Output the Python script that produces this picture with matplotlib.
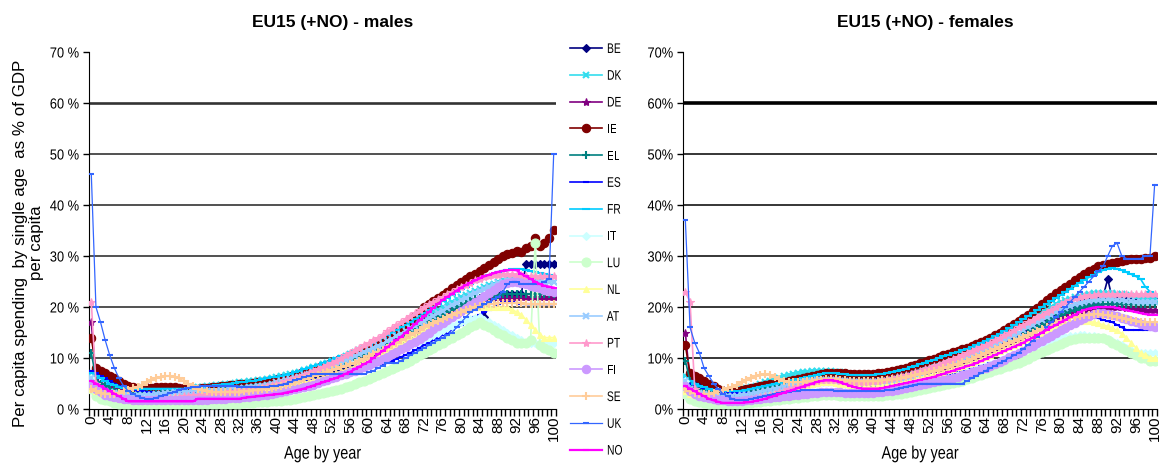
import matplotlib
matplotlib.use("Agg")
import matplotlib.pyplot as plt
import numpy as np
from matplotlib.patheffects import AbstractPathEffect
from matplotlib.transforms import Affine2D

plt.rcParams["font.family"] = ["Liberation Sans", "DejaVu Sans"]

AGES = list(range(101))
COUNTRIES = ["BE", "DK", "DE", "IE", "EL", "ES", "FR", "IT", "LU", "NL", "AT", "PT", "FI", "SE", "UK", "NO"]

# per capita spending, % of GDP per capita, males, ages 0..100
BE_M = [6, 7.5, 7, 6.5, 6, 5.5, 5, 4.5, 4, 3.8,
        3.6, 3.5, 3.5, 3.5, 3.5, 3.5, 3.5, 3.5, 3.5, 3.5,
        3.5, 3.5, 3.5, 3.5, 3.5, 3.6, 3.6, 3.7, 3.7, 3.8,
        3.8, 3.9, 4, 4, 4.1, 4.2, 4.3, 4.4, 4.5, 4.6,
        4.7, 4.8, 5, 5.2, 5.4, 5.6, 5.8, 6, 6.2, 6.4,
        6.6, 6.8, 7, 7.3, 7.6, 7.9, 8.2, 8.6, 9, 9.4,
        9.8, 10.2, 10.6, 11, 11.5, 12, 12.5, 13, 13.5, 14,
        14.5, 15, 15.5, 16, 16.5, 17, 17.5, 18, 18.5, 19,
        19.5, 20, 20.5, 21, 21.5, 18, 21.5, 22, 22.5, 22.5,
        22.5, 22.5, 22.5, 22.5, 28.5, 28.5, 28.5, 28.5, 28.5, 28.5, 28.5]
DK_M = [7, 5, 4.5, 4.2, 4, 3.8, 3.6, 3.5, 3.5, 3.5,
        3.5, 3.5, 3.5, 3.5, 3.6, 3.7, 3.8, 3.9, 4, 4,
        4, 4.1, 4.2, 4.3, 4.4, 4.5, 4.6, 4.7, 4.8, 4.9,
        5, 5.1, 5.2, 5.3, 5.4, 5.5, 5.6, 5.7, 5.8, 6,
        6.2, 6.4, 6.6, 6.8, 7, 7.3, 7.6, 7.9, 8.2, 8.5,
        8.8, 9.1, 9.4, 9.7, 10, 10.4, 10.8, 11.2, 11.6, 12,
        12.4, 12.8, 13.2, 13.6, 14, 14.5, 15, 15.5, 16, 16.5,
        17, 17.5, 18, 18.5, 19, 19.5, 20, 20.5, 21, 21.5,
        22, 22.4, 22.8, 23.2, 23.6, 24, 24.3, 24.6, 24.9, 25.2,
        25.4, 25.5, 25.5, 25.5, 25.4, 25.3, 25.2, 25.1, 25, 25, 25]
DE_M = [17, 6, 5, 4.6, 4.4, 4.3, 4.2, 4.2, 4.2, 4.3,
        4.4, 4.5, 4.5, 4.4, 4.3, 4.2, 4.1, 4, 4, 4,
        3.9, 3.9, 3.9, 3.9, 4, 4, 4.1, 4.2, 4.3, 4.4,
        4.5, 4.6, 4.7, 4.8, 4.9, 5, 5.1, 5.2, 5.4, 5.6,
        5.8, 6, 6.2, 6.4, 6.7, 7, 7.3, 7.6, 7.9, 8.2,
        8.5, 8.8, 9.2, 9.6, 10, 10.4, 10.8, 11.2, 11.6, 12,
        12.4, 12.8, 13.2, 13.6, 14, 14.4, 14.8, 15.2, 15.6, 16,
        16.4, 16.8, 17.2, 17.6, 18, 18.4, 18.8, 19.2, 19.6, 20,
        20.3, 20.6, 20.9, 21.2, 21.5, 21.7, 21.9, 22, 22, 22,
        22, 22, 22, 22, 22, 22, 22, 22, 22, 22, 22]
IE_M = [14, 8, 7.5, 7, 6.5, 6, 5.5, 5, 4.5, 4.3,
        4.2, 4.2, 4.2, 4.2, 4.3, 4.3, 4.4, 4.4, 4.3, 4.2,
        4.1, 4, 4, 4, 4.1, 4.2, 4.3, 4.4, 4.5, 4.6,
        4.7, 4.8, 4.9, 5, 5, 5.1, 5.2, 5.3, 5.4, 5.5,
        5.6, 5.8, 6, 6.2, 6.5, 6.8, 7.1, 7.4, 7.7, 8,
        8.3, 8.6, 8.9, 9.2, 9.6, 10, 10.4, 10.8, 11.2, 11.6,
        12, 12.5, 13, 13.5, 14, 14.7, 15.4, 16.1, 16.8, 17.5,
        18.3, 19.1, 20, 20.6, 21.2, 21.8, 22.4, 23, 23.7, 24.4,
        25, 25.5, 26, 26.5, 27, 27.6, 28.2, 28.8, 29.4, 30,
        30.3, 30.6, 31, 30.8, 31.5, 32, 33.5, 32, 32.5, 33.5, 35]
EL_M = [11, 6, 5, 4.5, 4, 3.7, 3.5, 3.3, 3.2, 3.1,
        3, 3, 3, 3, 3, 3, 3, 3, 3, 3,
        3, 3, 3, 3, 3.1, 3.2, 3.3, 3.4, 3.5, 3.6,
        3.7, 3.8, 3.9, 4, 4.1, 4.2, 4.3, 4.4, 4.5, 4.7,
        4.9, 5.1, 5.3, 5.5, 5.7, 6, 6.3, 6.6, 6.9, 7.2,
        7.5, 7.8, 8.1, 8.4, 8.8, 9.2, 9.6, 10, 10.4, 10.8,
        11.2, 11.6, 12, 12.4, 12.8, 13.2, 13.6, 14, 14.5, 15,
        15.5, 16, 16.5, 17, 17.5, 18, 18.5, 19, 19.5, 20,
        20.4, 20.8, 21.2, 21.5, 21.8, 22, 22.2, 22.3, 22.4, 22.5,
        22.5, 22.5, 22.5, 22.5, 22.5, 22.5, 22.5, 22.5, 22.5, 22.5, 22.5]
ES_M = [7.5, 7, 6.5, 6, 5.5, 5, 4.6, 4.3, 4, 3.8,
        3.6, 3.5, 3.4, 3.3, 3.2, 3.2, 3.2, 3.2, 3.2, 3.2,
        3.2, 3.2, 3.2, 3.2, 3.2, 3.2, 3.2, 3.3, 3.3, 3.4,
        3.4, 3.5, 3.5, 3.6, 3.7, 3.8, 3.9, 4, 4.1, 4.2,
        4.3, 4.4, 4.5, 4.7, 4.9, 5.1, 5.3, 5.5, 5.7, 5.9,
        6.1, 6.3, 6.5, 6.7, 6.9, 7.1, 7.3, 7.5, 7.7, 7.9,
        8.1, 8.3, 8.6, 8.9, 9.2, 9.5, 9.8, 10.2, 10.6, 11,
        11.5, 12, 12.5, 13, 13.5, 14, 14.5, 15, 15.5, 16,
        16.5, 17, 17.5, 18, 18.5, 19, 19.5, 20, 20.5, 21,
        21, 21, 20.8, 20.6, 20.5, 20.5, 20.5, 20.5, 20.5, 20.5, 20.5]
FR_M = [7, 6.5, 6, 5.5, 5, 4.7, 4.4, 4.2, 4, 4,
        4, 4, 4, 4, 4, 4, 4, 4, 4, 4,
        4, 4.1, 4.2, 4.3, 4.4, 4.5, 4.6, 4.7, 4.8, 4.9,
        5, 5.1, 5.2, 5.3, 5.4, 5.5, 5.6, 5.8, 6, 6.2,
        6.3, 6.5, 6.7, 6.9, 7.2, 7.5, 7.8, 8.1, 8.4, 8.7,
        9, 9.3, 9.6, 10, 10.3, 10.6, 11, 11.4, 11.8, 12.2,
        12.6, 13, 13.5, 14, 14.5, 15, 15.5, 16, 16.5, 17,
        17.6, 18.2, 18.8, 19.4, 20, 20.6, 21.2, 21.8, 22.4, 23,
        23.5, 24, 24.5, 25, 25.4, 25.8, 26.2, 26.5, 26.8, 27,
        27.2, 27.4, 27.5, 27.4, 27.2, 27, 26.8, 26.6, 26.4, 26.2, 26]
IT_M = [6, 4, 3.2, 2.8, 2.5, 2.3, 2.2, 2.1, 2, 2,
        2, 2, 2, 2, 2, 2, 2, 2, 2, 2,
        2, 2, 2, 2, 2, 2, 2.1, 2.1, 2.2, 2.2,
        2.3, 2.3, 2.4, 2.5, 2.6, 2.7, 2.8, 2.9, 3, 3.1,
        3.2, 3.3, 3.5, 3.7, 3.9, 4.1, 4.3, 4.5, 4.8, 5.1,
        5.4, 5.7, 6, 6.3, 6.6, 7, 7.4, 7.8, 8.2, 8.6,
        9, 9.4, 9.8, 10.2, 10.6, 11, 11.4, 11.8, 12.2, 12.6,
        13, 13.4, 13.8, 14.2, 14.6, 15, 15.4, 15.8, 16.2, 16.6,
        17, 17.3, 17.6, 17.8, 18, 17.5, 17, 16.5, 16, 15.5,
        15, 14.5, 14, 13.5, 13, 13, 13, 13, 13, 13, 13]
LU_M = [4, 2.5, 2, 1.8, 1.5, 1.2, 1, 1, 1, 1,
        1, 1, 1, 1, 1, 1, 1, 1, 1, 1,
        1, 1, 1, 1, 1, 1, 1, 1, 1, 1,
        1, 1, 1, 1.1, 1.2, 1.2, 1.3, 1.3, 1.4, 1.5,
        1.5, 1.6, 1.7, 1.8, 2, 2.2, 2.4, 2.6, 2.8, 3,
        3.2, 3.4, 3.6, 3.8, 4, 4.3, 4.6, 4.9, 5.2, 5.5,
        5.8, 6.2, 6.6, 7, 7.4, 7.8, 8.2, 8.6, 9, 9.5,
        10, 10.5, 11, 11.5, 12, 12.5, 13, 13.5, 14, 14.5,
        15, 15.5, 16, 16.5, 17, 16.5, 16, 15.5, 15, 14.5,
        14, 13.5, 13, 13, 13, 13.5, 32.5, 12.5, 12, 11.5, 11]
NL_M = [4, 3.5, 3.2, 3, 2.8, 2.6, 2.5, 2.4, 2.4, 2.4,
        2.4, 2.4, 2.4, 2.5, 2.6, 2.7, 2.8, 2.9, 3, 3,
        3, 3, 3, 3, 3, 3, 3, 3, 3.1, 3.1,
        3.2, 3.2, 3.3, 3.4, 3.5, 3.6, 3.7, 3.8, 3.9, 4,
        4.1, 4.2, 4.4, 4.6, 4.8, 5, 5.2, 5.4, 5.6, 5.9,
        6.2, 6.5, 6.8, 7.1, 7.4, 7.7, 8, 8.4, 8.8, 9.2,
        9.6, 10, 10.5, 11, 11.5, 12, 12.5, 13, 13.5, 14,
        14.5, 15, 15.5, 16, 16.5, 17, 17.5, 18, 18.4, 18.8,
        19.2, 19.5, 19.8, 20, 20, 20, 20, 20, 20, 20,
        20, 19.5, 19, 18.5, 17.5, 16.5, 15.5, 14.5, 14, 14, 14]
AT_M = [6, 4.5, 4, 3.6, 3.3, 3.1, 3, 2.9, 2.8, 2.8,
        2.8, 2.8, 2.8, 2.8, 2.9, 3, 3.1, 3.2, 3.3, 3.4,
        3.4, 3.4, 3.4, 3.4, 3.5, 3.5, 3.6, 3.6, 3.7, 3.8,
        3.9, 4, 4.1, 4.2, 4.3, 4.4, 4.5, 4.6, 4.8, 5,
        5.2, 5.4, 5.6, 5.8, 6, 6.3, 6.6, 6.9, 7.2, 7.5,
        7.8, 8.1, 8.4, 8.8, 9.2, 9.6, 10, 10.4, 10.8, 11.2,
        11.6, 12, 12.4, 12.8, 13.3, 13.8, 14.3, 14.8, 15.3, 15.8,
        16.3, 16.8, 17.3, 17.8, 18.3, 18.8, 19.3, 19.8, 20.3, 20.8,
        21.3, 21.8, 22.3, 22.8, 23.2, 23.6, 24, 24.4, 24.7, 25,
        25.2, 25.3, 25.3, 25.3, 25.2, 25.1, 25, 25, 25, 25, 25]
PT_M = [21, 5, 3.5, 3, 2.5, 2.2, 2, 1.8, 1.7, 1.6,
        1.6, 1.6, 1.7, 1.8, 1.9, 2, 2.1, 2.2, 2.3, 2.4,
        2.5, 2.6, 2.7, 2.8, 2.9, 3, 3.1, 3.2, 3.3, 3.4,
        3.5, 3.6, 3.7, 3.8, 3.9, 4, 4.1, 4.3, 4.5, 4.7,
        4.9, 5.1, 5.4, 5.7, 6, 6.3, 6.7, 7.1, 7.5, 7.9,
        8.3, 8.7, 9.1, 9.5, 10, 10.5, 11, 11.5, 12, 12.5,
        13, 13.5, 14, 14.6, 15.2, 15.8, 16.4, 17, 17.6, 18.2,
        18.8, 19.4, 20, 20.5, 21, 21.5, 22, 22.5, 23, 23.5,
        24, 24.4, 24.8, 25.2, 25.5, 25.8, 26, 26.2, 26.3, 26.4,
        26.4, 26.4, 26.3, 26.2, 26.1, 26, 26, 26, 26, 26, 26]
FI_M = [5, 4, 3.3, 2.8, 2.5, 2.3, 2.1, 2, 1.9, 1.8,
        1.8, 1.8, 1.8, 1.8, 1.8, 1.8, 1.8, 1.8, 1.8, 1.8,
        1.8, 1.8, 1.8, 1.8, 1.8, 1.8, 1.9, 1.9, 2, 2,
        2.1, 2.1, 2.2, 2.3, 2.4, 2.5, 2.6, 2.7, 2.8, 3,
        3.1, 3.3, 3.5, 3.7, 3.9, 4.1, 4.3, 4.5, 4.8, 5.1,
        5.4, 5.7, 6, 6.3, 6.6, 6.9, 7.2, 7.5, 7.8, 8.2,
        8.6, 9, 9.4, 9.8, 10.2, 10.7, 11.2, 11.7, 12.2, 12.7,
        13.2, 13.8, 14.4, 15, 15.6, 16.2, 16.8, 17.4, 18, 18.6,
        19.2, 19.8, 20.4, 21, 21.6, 22.2, 22.8, 23.4, 24, 24.5,
        24.8, 25, 25, 24.8, 24.5, 24.2, 24, 23.7, 23.4, 23.2, 23]
SE_M = [4, 3.5, 3.2, 3, 2.9, 3, 3.2, 3.5, 3.8, 4.1,
        4.4, 4.8, 5.2, 5.6, 6, 6.3, 6.5, 6.5, 6.3, 6,
        5.5, 5, 4.5, 4, 3.7, 3.5, 3.4, 3.3, 3.3, 3.3,
        3.3, 3.3, 3.4, 3.5, 3.6, 3.7, 3.8, 3.9, 4, 4.2,
        4.4, 4.6, 4.8, 5, 5.2, 5.5, 5.8, 6.1, 6.4, 6.7,
        7, 7.3, 7.6, 7.9, 8.2, 8.5, 8.8, 9.1, 9.5, 9.9,
        10.3, 10.7, 11.1, 11.5, 12, 12.5, 13, 13.5, 14, 14.5,
        15, 15.5, 16, 16.4, 16.8, 17.2, 17.6, 18, 18.4, 18.8,
        19.1, 19.4, 19.7, 20, 20.2, 20.4, 20.5, 20.6, 20.7, 20.8,
        20.8, 20.8, 20.8, 20.7, 20.6, 20.5, 20.5, 20.5, 20.5, 20.5, 20.5]
UK_M = [46, 20, 17, 13.5, 10.5, 8, 6, 4.5, 3.5, 3,
        2.5, 2.2, 2, 2, 2.2, 2.5, 2.8, 3.1, 3.4, 3.7,
        4, 4.2, 4.3, 4.4, 4.5, 4.5, 4.5, 4.5, 4.5, 4.5,
        4.5, 4.5, 4.4, 4.4, 4.3, 4.3, 4.3, 4.3, 4.4, 4.5,
        4.6, 4.8, 5, 5.3, 5.6, 5.9, 6.2, 6.5, 6.8, 6.8,
        6.8, 6.8, 6.8, 6.8, 6.8, 6.8, 6.8, 6.8, 6.8, 6.8,
        7.2, 7.5, 8, 8.5, 9, 9, 9, 9.5, 10, 10.5,
        11, 11.5, 12, 12.5, 13, 13.5, 14, 14.5, 15, 16,
        17, 18, 19, 19.5, 20, 20.5, 21, 21.5, 22, 23,
        24.5, 25, 25, 24.5, 24.5, 24.5, 24.5, 24.5, 25, 25.5, 50]
NO_M = [5.5, 5, 4.5, 4, 3.5, 3, 2.5, 2, 1.5, 1.5,
        1.5, 1.5, 1.5, 1.5, 1.5, 1.5, 1.5, 1.5, 1.5, 1.5,
        1.5, 1.5, 1.5, 2, 2, 2, 2, 2, 2, 2,
        2, 2, 2, 2.2, 2.3, 2.4, 2.5, 2.6, 2.7, 2.8,
        2.9, 3, 3.2, 3.4, 3.6, 3.8, 4, 4.3, 4.6, 4.9,
        5.2, 5.5, 5.8, 6.1, 6.5, 6.9, 7.3, 7.8, 8.3, 8.8,
        9.3, 10, 10.7, 11.4, 12.1, 12.8, 13.5, 14.2, 15, 15.8,
        16.6, 17.4, 18.2, 19, 19.8, 20.6, 21.4, 22, 22.6, 23.2,
        23.8, 24.3, 24.8, 25.2, 25.6, 26, 26.3, 26.6, 26.9, 27.1,
        27.2, 27.3, 27.2, 26.5, 26, 25.5, 25, 24.5, 24.2, 24, 23.8]

# females, ages 0..100
BE_F = [5, 6.5, 6, 5.5, 5, 4.5, 4.2, 3.9, 3.7, 3.5,
        3.4, 3.4, 3.5, 3.6, 3.7, 3.9, 4.1, 4.3, 4.5, 4.7,
        4.9, 5.1, 5.3, 5.5, 5.6, 5.7, 5.8, 5.9, 6, 6,
        6, 6, 5.9, 5.8, 5.7, 5.6, 5.5, 5.5, 5.5, 5.5,
        5.5, 5.6, 5.7, 5.8, 6, 6.2, 6.4, 6.6, 6.8, 7,
        7.2, 7.4, 7.6, 7.8, 8, 8.3, 8.6, 8.9, 9.2, 9.5,
        9.8, 10.1, 10.4, 10.8, 11.2, 11.6, 12, 12.5, 13, 13.5,
        14, 14.5, 15, 15.5, 16, 16.5, 17, 17.5, 18, 18.5,
        19, 19.4, 19.8, 20.2, 20.5, 20.8, 21, 21.2, 21.4, 22,
        25.5, 21.5, 21.5, 21.5, 21.5, 21.5, 21.5, 21.5, 21.5, 21.5, 21.5]
DK_F = [6.5, 4.5, 4, 3.7, 3.5, 3.4, 3.4, 3.4, 3.4, 3.5,
        3.6, 3.7, 3.9, 4.1, 4.3, 4.6, 4.9, 5.2, 5.5, 5.8,
        6.1, 6.4, 6.7, 6.9, 7.1, 7.2, 7.3, 7.4, 7.5, 7.5,
        7.5, 7.4, 7.3, 7.2, 7, 6.9, 6.8, 6.7, 6.7, 6.7,
        6.7, 6.8, 6.9, 7, 7.2, 7.4, 7.6, 7.8, 8, 8.3,
        8.6, 8.9, 9.2, 9.5, 9.8, 10.1, 10.4, 10.7, 11, 11.3,
        11.6, 12, 12.4, 12.8, 13.2, 13.6, 14, 14.5, 15, 15.5,
        16, 16.5, 17, 17.5, 18, 18.5, 19, 19.5, 20, 20.5,
        21, 21.3, 21.6, 21.9, 22.2, 22.4, 22.6, 22.7, 22.8, 22.8,
        22.8, 22.7, 22.6, 22.5, 22.3, 22.2, 22, 21.8, 21.6, 21.5, 21.5]
DE_F = [15, 5.5, 4.5, 4, 3.7, 3.5, 3.3, 3.2, 3.1, 3.1,
        3.1, 3.2, 3.3, 3.4, 3.5, 3.7, 3.9, 4.1, 4.3, 4.5,
        4.7, 4.9, 5.1, 5.3, 5.5, 5.6, 5.7, 5.8, 5.9, 6,
        6, 6, 6, 5.9, 5.8, 5.7, 5.6, 5.6, 5.6, 5.6,
        5.6, 5.7, 5.8, 5.9, 6, 6.2, 6.4, 6.6, 6.8, 7,
        7.2, 7.4, 7.6, 7.8, 8, 8.3, 8.6, 8.9, 9.2, 9.5,
        9.8, 10.1, 10.4, 10.8, 11.2, 11.6, 12, 12.4, 12.8, 13.2,
        13.6, 14, 14.5, 15, 15.5, 16, 16.5, 17, 17.4, 17.8,
        18.2, 18.5, 18.8, 19, 19.2, 19.4, 19.6, 19.7, 19.8, 19.9,
        20, 20, 20, 20, 19.9, 19.8, 19.7, 19.6, 19.5, 19.5, 19.5]
IE_F = [12.5, 7, 6.5, 6, 5.5, 5, 4.5, 4, 3.5, 3.5,
        3.5, 3.6, 3.8, 4, 4.2, 4.4, 4.6, 4.8, 5, 5,
        5.1, 5.3, 5.5, 5.7, 5.9, 6.1, 6.3, 6.5, 6.7, 6.9,
        7, 7.1, 7.1, 7, 7, 6.9, 6.8, 6.8, 6.8, 6.8,
        6.9, 7, 7.1, 7.3, 7.5, 7.7, 7.9, 8.1, 8.4, 8.7,
        9, 9.3, 9.6, 9.9, 10.2, 10.5, 10.8, 11.1, 11.4, 11.7,
        12, 12.4, 12.8, 13.2, 13.6, 14, 14.5, 15, 15.5, 16,
        16.6, 17.2, 17.8, 18.5, 19.2, 19.9, 20.6, 21.3, 22, 22.7,
        23.4, 24, 24.6, 25.2, 25.8, 26.4, 27, 27.5, 28, 28.3,
        28.5, 28.7, 28.9, 29, 29.2, 29.4, 29.5, 29.5, 29.6, 29.7, 30]
EL_F = [9.5, 5.5, 4.5, 4, 3.6, 3.3, 3.1, 3, 2.9, 2.9,
        2.9, 3, 3.1, 3.2, 3.3, 3.5, 3.7, 3.9, 4.1, 4.3,
        4.5, 4.7, 4.9, 5.1, 5.3, 5.4, 5.5, 5.6, 5.7, 5.8,
        5.8, 5.8, 5.8, 5.7, 5.6, 5.5, 5.4, 5.4, 5.4, 5.4,
        5.4, 5.5, 5.6, 5.7, 5.8, 6, 6.2, 6.4, 6.6, 6.8,
        7, 7.2, 7.4, 7.6, 7.8, 8.1, 8.4, 8.7, 9, 9.3,
        9.6, 9.9, 10.2, 10.6, 11, 11.4, 11.8, 12.2, 12.6, 13,
        13.5, 14, 14.5, 15, 15.5, 16, 16.5, 17, 17.5, 18,
        18.4, 18.8, 19.2, 19.5, 19.8, 20, 20.2, 20.3, 20.4, 20.5,
        20.5, 20.5, 20.5, 20.5, 20.5, 20.5, 20.5, 20.5, 20.5, 20.5, 20.5]
ES_F = [5, 5, 4.8, 4.5, 4.2, 4, 3.8, 3.6, 3.4, 3.3,
        3.2, 3.1, 3.1, 3.1, 3.2, 3.3, 3.4, 3.5, 3.6, 3.7,
        3.8, 3.9, 4, 4.1, 4.2, 4.3, 4.4, 4.5, 4.6, 4.7,
        4.8, 4.8, 4.8, 4.8, 4.7, 4.6, 4.5, 4.5, 4.5, 4.5,
        4.5, 4.5, 4.6, 4.7, 4.8, 4.9, 5, 5.1, 5.3, 5.5,
        5.7, 5.9, 6.1, 6.3, 6.5, 6.7, 6.9, 7.1, 7.3, 7.5,
        7.7, 7.9, 8.1, 8.4, 8.7, 9, 9.3, 9.6, 10, 10.4,
        10.8, 11.2, 11.6, 12, 12.5, 13, 13.5, 14, 14.5, 15,
        15.5, 16, 16.5, 17, 17.4, 17.8, 18, 18, 17.8, 17.5,
        17.2, 17, 16.5, 16, 15.5, 15.5, 15.5, 15.5, 15.5, 15.5, 15.5]
FR_F = [6, 5.5, 5, 4.6, 4.3, 4, 3.8, 3.6, 3.5, 3.5,
        3.5, 3.5, 3.6, 3.8, 4, 4.2, 4.4, 4.6, 4.8, 5,
        5.1, 5.3, 5.5, 5.7, 5.9, 6.1, 6.3, 6.5, 6.7, 6.9,
        7, 7, 7, 6.9, 6.8, 6.7, 6.6, 6.6, 6.6, 6.6,
        6.7, 6.8, 6.9, 7.1, 7.3, 7.5, 7.7, 7.9, 8.2, 8.5,
        8.8, 9.1, 9.4, 9.7, 10, 10.3, 10.6, 10.9, 11.2, 11.5,
        11.8, 12.2, 12.6, 13, 13.4, 13.8, 14.3, 14.8, 15.3, 15.8,
        16.4, 17, 17.6, 18.2, 18.8, 19.4, 20, 20.6, 21.2, 21.8,
        22.4, 23, 23.6, 24.2, 24.8, 25.3, 25.8, 26.3, 26.8, 27.2,
        27.5, 27.6, 27.5, 27.2, 26.8, 26.4, 26, 25.5, 24, 23, 22]
IT_F = [5.5, 3.5, 2.8, 2.4, 2.1, 1.9, 1.8, 1.7, 1.6, 1.6,
        1.6, 1.6, 1.7, 1.8, 1.9, 2, 2.1, 2.2, 2.3, 2.4,
        2.5, 2.6, 2.7, 2.8, 2.9, 3, 3.1, 3.2, 3.3, 3.4,
        3.4, 3.4, 3.4, 3.4, 3.3, 3.3, 3.3, 3.3, 3.3, 3.3,
        3.3, 3.4, 3.5, 3.6, 3.7, 3.8, 4, 4.2, 4.4, 4.6,
        4.8, 5, 5.2, 5.4, 5.6, 5.8, 6, 6.3, 6.6, 6.9,
        7.2, 7.5, 7.8, 8.1, 8.4, 8.7, 9, 9.4, 9.8, 10.2,
        10.6, 11, 11.4, 11.8, 12.2, 12.5, 12.8, 13.1, 13.4, 13.7,
        14, 14.2, 14.3, 14.4, 14.5, 14.5, 14.4, 14.3, 14.2, 14,
        13.7, 13.4, 13, 12.5, 12, 11.5, 11, 11, 11, 11, 11]
LU_F = [3, 2, 1.5, 1.3, 1.1, 1, 1, 1, 1, 1,
        1, 1, 1, 1.1, 1.2, 1.3, 1.4, 1.5, 1.6, 1.7,
        1.8, 1.9, 2, 2.1, 2.2, 2.3, 2.4, 2.5, 2.6, 2.7,
        2.7, 2.7, 2.7, 2.6, 2.6, 2.5, 2.5, 2.5, 2.5, 2.5,
        2.5, 2.5, 2.6, 2.7, 2.8, 2.9, 3, 3.1, 3.3, 3.5,
        3.7, 3.9, 4.1, 4.3, 4.5, 4.7, 4.9, 5.1, 5.3, 5.5,
        5.8, 6.1, 6.4, 6.7, 7, 7.3, 7.6, 7.9, 8.2, 8.5,
        8.8, 9.1, 9.5, 9.9, 10.3, 10.7, 11.1, 11.5, 11.9, 12.3,
        12.7, 13.1, 13.5, 13.8, 14, 14, 14, 14, 14, 14,
        13.5, 13, 12.5, 12, 11.5, 11, 10.5, 10, 10, 9.5, 9.5]
NL_F = [3.5, 3, 2.7, 2.5, 2.3, 2.2, 2.1, 2, 2, 2,
        2, 2, 2.1, 2.2, 2.4, 2.6, 2.8, 3, 3.2, 3.4,
        3.6, 3.8, 4, 4.2, 4.4, 4.6, 4.8, 5, 5.1, 5.2,
        5.2, 5.2, 5.1, 5, 4.9, 4.8, 4.7, 4.6, 4.6, 4.6,
        4.6, 4.7, 4.8, 4.9, 5, 5.2, 5.4, 5.6, 5.8, 6,
        6.2, 6.4, 6.6, 6.8, 7, 7.3, 7.6, 7.9, 8.2, 8.5,
        8.8, 9.1, 9.4, 9.8, 10.2, 10.6, 11, 11.4, 11.8, 12.2,
        12.6, 13, 13.4, 13.8, 14.2, 14.6, 15, 15.4, 15.8, 16.2,
        16.5, 16.8, 17, 17.2, 17.3, 17.3, 17.2, 17, 16.8, 16.5,
        16.2, 15.8, 15.4, 14.8, 14, 13, 12, 11, 10.5, 10, 10]
AT_F = [5.5, 4, 3.5, 3.2, 3, 2.8, 2.7, 2.6, 2.5, 2.5,
        2.5, 2.6, 2.7, 2.8, 3, 3.2, 3.4, 3.6, 3.8, 4,
        4.2, 4.4, 4.6, 4.8, 5, 5.2, 5.4, 5.5, 5.6, 5.7,
        5.7, 5.7, 5.6, 5.5, 5.4, 5.3, 5.2, 5.2, 5.2, 5.2,
        5.2, 5.3, 5.4, 5.5, 5.7, 5.9, 6.1, 6.3, 6.5, 6.8,
        7.1, 7.4, 7.7, 8, 8.3, 8.6, 8.9, 9.2, 9.5, 9.8,
        10.1, 10.5, 10.9, 11.3, 11.7, 12.1, 12.5, 13, 13.5, 14,
        14.5, 15, 15.5, 16, 16.5, 17, 17.5, 18, 18.5, 19,
        19.4, 19.8, 20.2, 20.5, 20.8, 21, 21.2, 21.3, 21.4, 21.5,
        21.5, 21.5, 21.4, 21.3, 21.2, 21.1, 21, 21, 21, 21, 21]
PT_F = [23, 21, 4, 3, 2.5, 2, 1.8, 1.6, 1.5, 1.5,
        1.5, 1.6, 1.7, 1.8, 2, 2.2, 2.4, 2.6, 2.8, 3,
        3.3, 3.6, 3.9, 4.2, 4.5, 4.8, 5, 5.2, 5.4, 5.6,
        5.7, 5.7, 5.6, 5.5, 5.4, 5.3, 5.3, 5.3, 5.3, 5.3,
        5.4, 5.5, 5.6, 5.8, 6, 6.2, 6.4, 6.6, 6.9, 7.2,
        7.5, 7.8, 8.1, 8.4, 8.7, 9, 9.4, 9.8, 10.2, 10.6,
        11, 11.4, 11.8, 12.2, 12.6, 13, 13.5, 14, 14.5, 15,
        15.5, 16, 16.5, 17, 17.5, 18, 18.5, 19, 19.5, 20,
        20.5, 21, 21.4, 21.8, 22, 22.2, 22.3, 22.4, 22.5, 22.5,
        22.5, 22.5, 22.5, 22.5, 22.5, 22.5, 22.5, 22.5, 22.5, 22.5, 22.5]
FI_F = [4.5, 3.6, 3, 2.6, 2.3, 2.1, 1.9, 1.8, 1.7, 1.6,
        1.6, 1.6, 1.6, 1.7, 1.8, 1.9, 2, 2.1, 2.2, 2.3,
        2.4, 2.5, 2.6, 2.7, 2.8, 2.9, 3, 3.1, 3.2, 3.3,
        3.3, 3.3, 3.3, 3.3, 3.2, 3.2, 3.2, 3.2, 3.2, 3.2,
        3.2, 3.3, 3.4, 3.5, 3.6, 3.7, 3.9, 4.1, 4.3, 4.5,
        4.7, 4.9, 5.1, 5.3, 5.5, 5.7, 5.9, 6.1, 6.3, 6.6,
        6.9, 7.2, 7.5, 7.8, 8.1, 8.5, 8.9, 9.3, 9.7, 10.1,
        10.5, 10.9, 11.4, 11.9, 12.4, 12.9, 13.4, 13.9, 14.4, 14.9,
        15.4, 15.9, 16.4, 16.9, 17.4, 17.9, 18.3, 18.6, 18.8, 18.8,
        18.6, 18.4, 18.2, 17.9, 17.6, 17.3, 17, 16.7, 16.4, 16.2, 16]
SE_F = [4, 3.5, 3.2, 3, 2.9, 3, 3.2, 3.5, 3.8, 4.1,
        4.4, 4.8, 5.2, 5.6, 6, 6.4, 6.7, 6.8, 6.6, 6.2,
        5.8, 5.5, 5.3, 5.2, 5.2, 5.3, 5.4, 5.5, 5.6, 5.7,
        5.8, 5.8, 5.8, 5.7, 5.6, 5.5, 5.4, 5.4, 5.4, 5.4,
        5.4, 5.5, 5.6, 5.7, 5.8, 5.9, 6.1, 6.3, 6.5, 6.7,
        6.9, 7.1, 7.3, 7.5, 7.7, 8, 8.3, 8.6, 8.9, 9.2,
        9.5, 9.8, 10.1, 10.5, 10.9, 11.3, 11.7, 12.1, 12.5, 12.9,
        13.3, 13.7, 14.1, 14.5, 14.9, 15.3, 15.7, 16.1, 16.5, 16.9,
        17.2, 17.5, 17.8, 18, 18.2, 18.4, 18.5, 18.6, 18.6, 18.5,
        18.4, 18.2, 18, 17.8, 17.6, 17.4, 17.2, 17, 17, 17, 17]
UK_F = [37, 16, 13, 11, 8, 6.5, 5, 4, 3, 2.5,
        2, 1.8, 1.8, 1.8, 2, 2.2, 2.4, 2.6, 2.8, 3,
        3.2, 3.3, 3.4, 3.5, 3.6, 3.7, 3.7, 3.7, 3.7, 3.7,
        3.7, 3.7, 3.6, 3.6, 3.5, 3.5, 3.5, 3.5, 3.5, 3.5,
        3.5, 3.5, 3.6, 3.7, 3.8, 4, 4.2, 4.4, 4.6, 4.8,
        5, 5, 5, 5, 5, 5, 5, 5, 5, 5,
        5.5, 6, 6.5, 7, 7.5, 8, 8.5, 9, 9.5, 10,
        10.5, 11, 11.8, 12.6, 13.4, 14.2, 15, 16, 17, 18,
        19, 20, 21, 22, 23, 24, 25, 26, 27, 28,
        30, 32, 32.5, 30, 29.5, 29.5, 29.5, 29.5, 30, 30, 44]
NO_F = [4.5, 4, 3.5, 3, 2.5, 2, 1.7, 1.4, 1.2, 1.2,
        1.2, 1.2, 1.2, 1.3, 1.4, 1.6, 1.8, 2, 2.3, 2.6,
        2.9, 3.2, 3.5, 3.8, 4.1, 4.4, 4.7, 5, 5.3, 5.5,
        5.6, 5.6, 5.5, 5.2, 4.9, 4.6, 4.3, 4.1, 4, 4,
        4, 4, 4.1, 4.3, 4.5, 4.7, 4.9, 5.1, 5.3, 5.5,
        5.7, 5.9, 6.1, 6.3, 6.6, 6.9, 7.2, 7.5, 7.8, 8.1,
        8.4, 8.7, 9, 9.4, 9.8, 10.2, 10.6, 11, 11.4, 11.8,
        12.2, 12.6, 13, 13.5, 14, 14.5, 15, 15.5, 16, 16.5,
        17, 17.5, 18, 18.5, 19, 19.4, 19.7, 19.9, 20, 20,
        20, 20, 19.8, 19.6, 19.4, 19.2, 19, 18.8, 18.6, 18.5, 18.5]

MALES = [BE_M, DK_M, DE_M, IE_M, EL_M, ES_M, FR_M, IT_M, LU_M, NL_M, AT_M, PT_M, FI_M, SE_M, UK_M, NO_M]
FEMALES = [BE_F, DK_F, DE_F, IE_F, EL_F, ES_F, FR_F, IT_F, LU_F, NL_F, AT_F, PT_F, FI_F, SE_F, UK_F, NO_F]

# Excel 2003 style series formats: colour, marker, marker size, line width
STYLE = {
    "BE": ("#000080", "D", 4, 1.2),
    "DK": ("#33DDEE", "x", 5, 1.2),
    "DE": ("#800080", "*", 6, 1.2),
    "IE": ("#800000", "o", 6, 1.2),
    "EL": ("#008080", "+", 6, 1.2),
    "ES": ("#0000FF", "_", 5, 1.2),
    "FR": ("#00CCFF", "_", 6, 1.2),
    "IT": ("#CCFFFF", "D", 4, 1.2),
    "LU": ("#CCFFCC", "o", 6.5, 1.2),
    "NL": ("#FFFF99", "^", 5, 1.2),
    "AT": ("#99CCFF", "x", 5, 1.2),
    "PT": ("#FF99CC", "*", 6, 1.2),
    "FI": ("#CC99FF", "o", 6, 1.2),
    "SE": ("#FFCC99", "+", 6, 1.2),
    "UK": ("#3366FF", "_", 5, 0.9),
    "NO": ("#FF00FF", "_", 5, 1.6),
}


class Condense(AbstractPathEffect):
    """squeeze text horizontally, like the narrow Excel export"""

    def __init__(self, sx, anchor="center"):
        super().__init__()
        self.sx = sx
        self.anchor = anchor

    def draw_path(self, renderer, gc, tpath, affine, rgbFace=None):
        bb = tpath.get_extents(affine)
        x0 = {"left": bb.x0, "right": bb.x1, "center": 0.5 * (bb.x0 + bb.x1)}[self.anchor]
        tr = affine + Affine2D().translate(-x0, 0).scale(self.sx, 1).translate(x0, 0)
        renderer.draw_path(gc, tpath, tr, rgbFace)


def draw_panel(ax, data, pct_space, grid_col, grid_lw, top_lw):
    for c, vals in zip(COUNTRIES, data):
        col, mk, ms, lw = STYLE[c]
        ax.plot(AGES, vals, color=col, lw=lw, marker=mk, ms=ms,
                mew=1.5 if mk in "x+_" else 0.8, mec=col, mfc=col,
                label=c, zorder=3)
    ax.set_xlim(-0.5, 100.5)
    ax.set_ylim(0, 70)
    for y in range(10, 70, 10):
        ax.axhline(y, color=grid_col, lw=top_lw if y == 60 else grid_lw, zorder=1)
    ax.spines[["top", "right"]].set_visible(False)
    ax.set_yticks(range(0, 80, 10))
    fmt = "{} %" if pct_space else "{}%"
    ax.set_yticklabels([fmt.format(v) for v in range(0, 80, 10)], fontsize=10.5)
    for t in ax.get_yticklabels():
        t.set_path_effects([Condense(0.88, "right")])
    ax.set_xticks(range(0, 101, 4))
    ax.set_xticklabels([str(a) for a in range(0, 101, 4)], rotation=90, fontsize=11)
    ax.set_xticks(np.arange(-0.5, 101, 1), minor=True)
    ax.tick_params(axis="x", which="major", length=0, pad=5)
    ax.tick_params(axis="x", which="minor", length=5, width=1, direction="out")
    ax.tick_params(axis="y", length=4, width=1, direction="out", pad=3)
    lab = ax.set_xlabel("Age by year", fontsize=13, labelpad=3)
    lab.set_path_effects([Condense(0.8)])


fig = plt.figure(figsize=(11.62, 4.73), dpi=100)
ax1 = fig.add_axes([89 / 1162, 1 - 409 / 473, 467 / 1162, 357 / 473])
ax2 = fig.add_axes([683 / 1162, 1 - 409 / 473, 474 / 1162, 357 / 473])
draw_panel(ax1, MALES, True, "#333333", 1.2, 1.9)
draw_panel(ax2, FEMALES, False, "black", 1.1, 2.6)

for x, txt in [(333, "EU15 (+NO) - males"), (925, "EU15 (+NO) - females")]:
    fig.text(x / 1162, 1 - 22 / 473, txt, ha="center", va="center",
             fontsize=12.5, fontweight="bold")
# y title: two separate lines, as in the Excel export
fig.text(20.5 / 1162, 1 - 243 / 473, "Per capita spending  by single age  as % of GDP",
         rotation=90, ha="center", va="center", fontsize=12.2)
fig.text(37 / 1162, 1 - 243 / 473, "per capita",
         rotation=90, ha="center", va="center", fontsize=12.2)

handles, labels = ax1.get_legend_handles_labels()
leg = fig.legend(handles, labels, loc="upper left", bbox_to_anchor=(563 / 1162, 1 - 35 / 473),
                 frameon=False, prop={"size": 10}, numpoints=1,
                 handlelength=2.3, handletextpad=0.35, labelspacing=0.92, borderpad=0)
for t in leg.get_texts():
    t.set_path_effects([Condense(0.74, "left")])

fig.savefig("out.png", dpi=100)
